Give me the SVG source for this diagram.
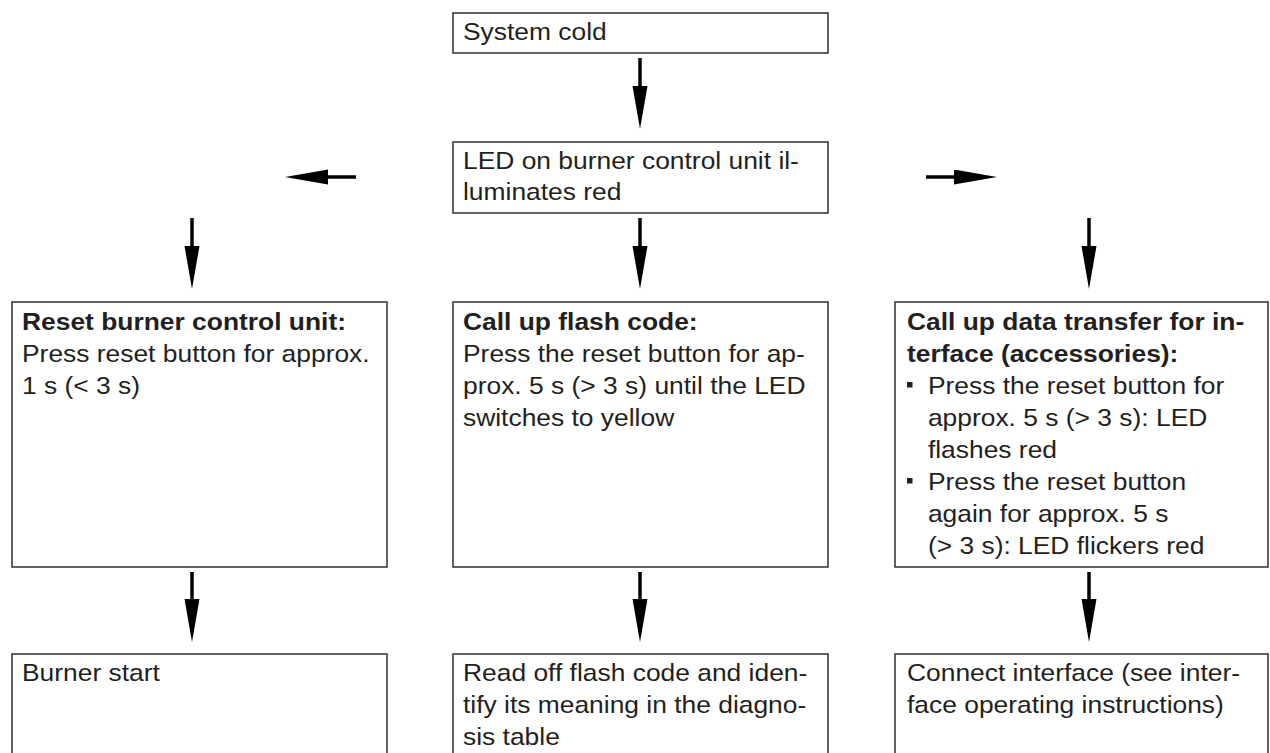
<svg xmlns="http://www.w3.org/2000/svg" width="1270" height="753" viewBox="0 0 1270 753">
<defs>
<style>
.box{fill:#fff;stroke:#231f20;stroke-width:1.4}
.t{font-family:"Liberation Sans",Arial,sans-serif;font-size:24px;fill:#231f20}
.b{font-weight:bold}
.sh{stroke:#000;stroke-width:3.5;fill:none}
.bul{fill:#231f20}
</style>
<marker id="ah" markerUnits="userSpaceOnUse" markerWidth="44" markerHeight="16" refX="0" refY="7.5" orient="auto">
<path d="M0,0 L43,7.5 L0,15 Z" fill="#000"/>
</marker>
</defs>
<rect width="1270" height="753" fill="#fff"/>
<g id="connectors">
<line class="sh" x1="640" y1="58" x2="640" y2="86" marker-end="url(#ah)"/>
<line class="sh" x1="356" y1="177" x2="328" y2="177" marker-end="url(#ah)"/>
<line class="sh" x1="926" y1="177" x2="954" y2="177" marker-end="url(#ah)"/>
<line class="sh" x1="192" y1="218" x2="192" y2="246" marker-end="url(#ah)"/>
<line class="sh" x1="640" y1="218" x2="640" y2="246" marker-end="url(#ah)"/>
<line class="sh" x1="1089" y1="218" x2="1089" y2="246" marker-end="url(#ah)"/>
<line class="sh" x1="192" y1="572" x2="192" y2="599" marker-end="url(#ah)"/>
<line class="sh" x1="640" y1="572" x2="640" y2="599" marker-end="url(#ah)"/>
<line class="sh" x1="1089" y1="572" x2="1089" y2="599" marker-end="url(#ah)"/>
</g>
<g id="n-system-cold">
<rect class="box" x="453" y="13" width="375" height="40"/>
<text class="t" transform="translate(463 0) scale(1.1 1)"><tspan x="0" y="40">System cold</tspan></text>
</g>
<g id="n-led-red">
<rect class="box" x="453" y="142" width="375" height="71"/>
<text class="t" transform="translate(463 0) scale(1.1 1)"><tspan x="0" y="169">LED on burner control unit il-</tspan><tspan x="0" y="200">luminates red</tspan></text>
</g>
<g id="n-reset">
<rect class="box" x="12" y="302" width="375" height="265"/>
<text class="t" transform="translate(22 0) scale(1.1 1)"><tspan class="b" x="0" y="330">Reset burner control unit:</tspan><tspan x="0" y="362">Press reset button for approx.</tspan><tspan x="0" y="394">1 s (&lt; 3 s)</tspan></text>
</g>
<g id="n-flash-code">
<rect class="box" x="453" y="302" width="375" height="265"/>
<text class="t" transform="translate(463 0) scale(1.1 1)"><tspan class="b" x="0" y="330">Call up flash code:</tspan><tspan x="0" y="362">Press the reset button for ap-</tspan><tspan x="0" y="394">prox. 5 s (&gt; 3 s) until the LED</tspan><tspan x="0" y="426">switches to yellow</tspan></text>
</g>
<g id="n-data-transfer">
<rect class="box" x="895" y="302" width="373" height="265"/>
<text class="t" transform="translate(907 0) scale(1.1 1)"><tspan class="b" x="0" y="330">Call up data transfer for in-</tspan><tspan class="b" x="0" y="362">terface (accessories):</tspan><tspan x="19" y="394">Press the reset button for</tspan><tspan x="19" y="426">approx. 5 s (&gt; 3 s): LED</tspan><tspan x="19" y="458">flashes red</tspan><tspan x="19" y="490">Press the reset button</tspan><tspan x="19" y="522">again for approx. 5 s</tspan><tspan x="19" y="554">(&gt; 3 s): LED flickers red</tspan></text>
<rect class="bul" x="907" y="382" width="5.5" height="5.5"/>
<rect class="bul" x="907" y="478" width="5.5" height="5.5"/>
</g>
<g id="n-burner-start">
<rect class="box" x="12" y="654" width="375" height="130"/>
<text class="t" transform="translate(22 0) scale(1.1 1)"><tspan x="0" y="681">Burner start</tspan></text>
</g>
<g id="n-read-code">
<rect class="box" x="453" y="654" width="375" height="130"/>
<text class="t" transform="translate(463 0) scale(1.1 1)"><tspan x="0" y="681">Read off flash code and iden-</tspan><tspan x="0" y="713">tify its meaning in the diagno-</tspan><tspan x="0" y="745">sis table</tspan></text>
</g>
<g id="n-connect">
<rect class="box" x="895" y="654" width="373" height="130"/>
<text class="t" transform="translate(907 0) scale(1.1 1)"><tspan x="0" y="681">Connect interface (see inter-</tspan><tspan x="0" y="713">face operating instructions)</tspan></text>
</g>
</svg>
